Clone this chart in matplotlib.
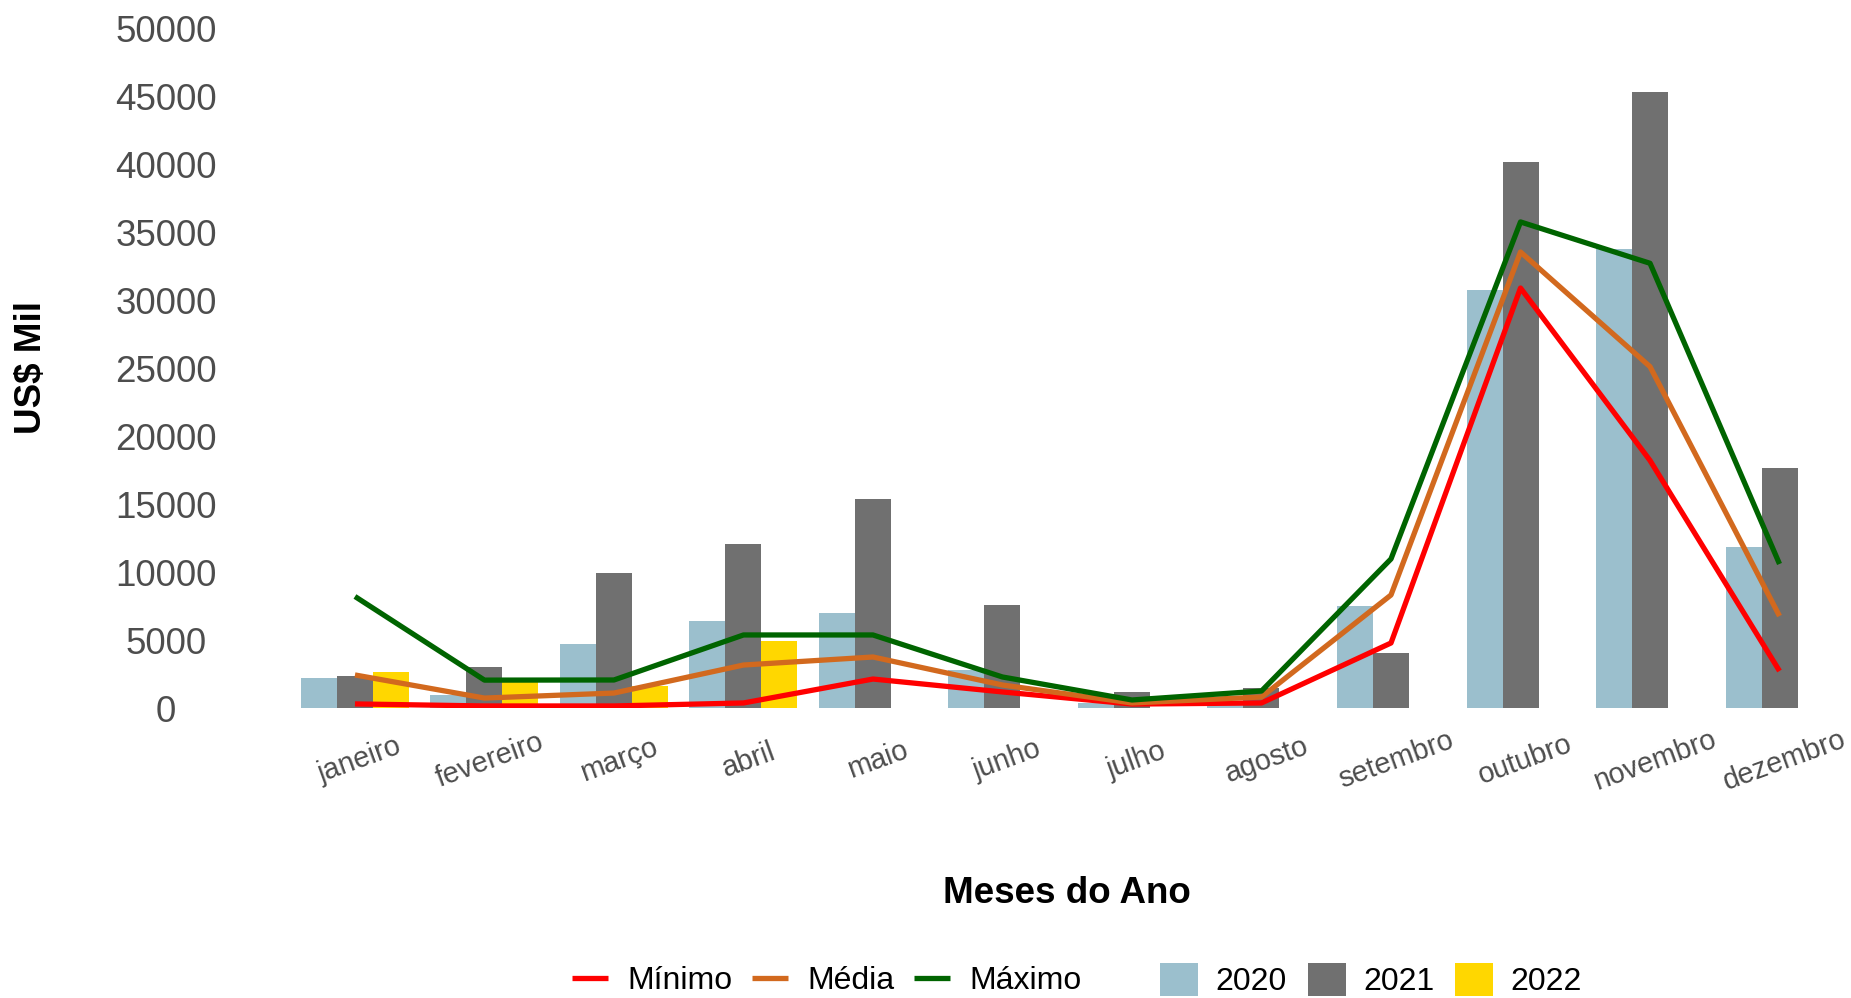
import numpy as np
import matplotlib
matplotlib.use('Agg')
import matplotlib.pyplot as plt
import matplotlib.transforms as mtransforms
from matplotlib.lines import Line2D
from matplotlib.patches import Patch

plt.rcParams['font.family'] = ['Liberation Sans', 'DejaVu Sans']

# --- Data (US$ mil por mês) ---
meses = ['janeiro', 'fevereiro', 'março', 'abril', 'maio', 'junho',
         'julho', 'agosto', 'setembro', 'outubro', 'novembro', 'dezembro']

v2020 = [2200, 950, 4700, 6400, 7000, 2790, 400, 250, 7500, 30740, 33750, 11840]
v2021 = [2350, 3000, 9930, 12060, 15370, 7570, 1180, 1470, 4040, 40150, 45290, 17650]
v2022 = [2650, 1900, 1620, 4930, np.nan, np.nan, np.nan, np.nan,
         np.nan, np.nan, np.nan, np.nan]

minimo = [300, 150, 150, 370, 2130, 1180, 290, 370, 4780, 30880, 18200, 2720]
media = [2430, 730, 1100, 3160, 3750, 1690, 370, 810, 8310, 33530, 25100, 6760]
maximo = [8200, 2050, 2060, 5370, 5370, 2280, 590, 1250, 10960, 35740, 32700, 10590]

yticks = [0, 5000, 10000, 15000, 20000, 25000, 30000, 35000, 40000, 45000, 50000]

# --- Colours ---
C2020 = '#9BBFCD'
C2021 = '#707070'
C2022 = '#FFD700'
RED = '#FF0000'
ORANGE = '#D2691E'
GREEN = '#006400'
GREY_TXT = '#4D4D4D'

W, H = 1851, 998
fig = plt.figure(figsize=(W / 100, H / 100), dpi=100)
ax = fig.add_axes([277 / W, 1 - 708 / H, (W - 277) / W, 680 / H])

x = np.arange(len(meses))
bw = 0.278

ax.bar(x - bw, v2020, width=bw, color=C2020, label='2020')
ax.bar(x, v2021, width=bw, color=C2021, label='2021')
ax.bar(x + bw, v2022, width=bw, color=C2022, label='2022')

lw = 3.8
ax.plot(x, minimo, color=RED, lw=lw, solid_capstyle='butt', label='Mínimo')
ax.plot(x, media, color=ORANGE, lw=lw, solid_capstyle='butt', label='Média')
ax.plot(x, maximo, color=GREEN, lw=lw, solid_capstyle='butt', label='Máximo')

ax.set_xlim(-0.602, 11.552)
ax.set_ylim(0, 50000)

for s in ax.spines.values():
    s.set_visible(False)

ax.set_yticks(yticks)
ax.set_yticklabels([str(v) for v in yticks])
ax.tick_params(axis='y', length=0, pad=80, labelsize=26.5, labelcolor=GREY_TXT)
for lab in ax.get_yticklabels():
    lab.set_ha('center')

ax.set_xticks(x)
ax.set_xticklabels(meses, rotation=20)
ax.tick_params(axis='x', length=0, pad=37.5, labelsize=20.8, labelcolor=GREY_TXT)
shift = mtransforms.ScaledTranslation(5 / 100, 0, fig.dpi_scale_trans)
for lab in ax.get_xticklabels():
    lab.set_ha('center')
    lab.set_va('center')
    lab.set_transform(lab.get_transform() + shift)

ax.set_xlabel('Meses do Ano', fontsize=26.5, fontweight='bold', va='center', ha='center')
ax.xaxis.set_label_coords(0.502, -0.2735)
ax.set_ylabel('US$ Mil', fontsize=26.5, fontweight='bold', va='center', ha='center')
ax.yaxis.set_label_coords(-0.1557, 0.5)

# --- Legends (lines, then fills) ---
line_handles = [Line2D([], [], color=c, lw=lw, solid_capstyle='butt')
                for c in (RED, ORANGE, GREEN)]
fig.legend(line_handles, ['Mínimo', 'Média', 'Máximo'], loc='center left',
           bbox_to_anchor=(572 / W, 1 - 981 / H), ncol=3, frameon=False,
           fontsize=23, handlelength=1.13, handletextpad=0.6,
           columnspacing=0.62, borderpad=0, borderaxespad=0)

bar_handles = [Patch(facecolor=c, edgecolor='none') for c in (C2020, C2021, C2022)]
fig.legend(bar_handles, ['2020', '2021', '2022'], loc='center left',
           bbox_to_anchor=(1160 / W, 1 - 980 / H), ncol=3, frameon=False,
           fontsize=23, handlelength=1.19, handleheight=1.19, handletextpad=0.55,
           columnspacing=0.65, borderpad=0, borderaxespad=0)

fig.savefig('out.png', dpi=100)
